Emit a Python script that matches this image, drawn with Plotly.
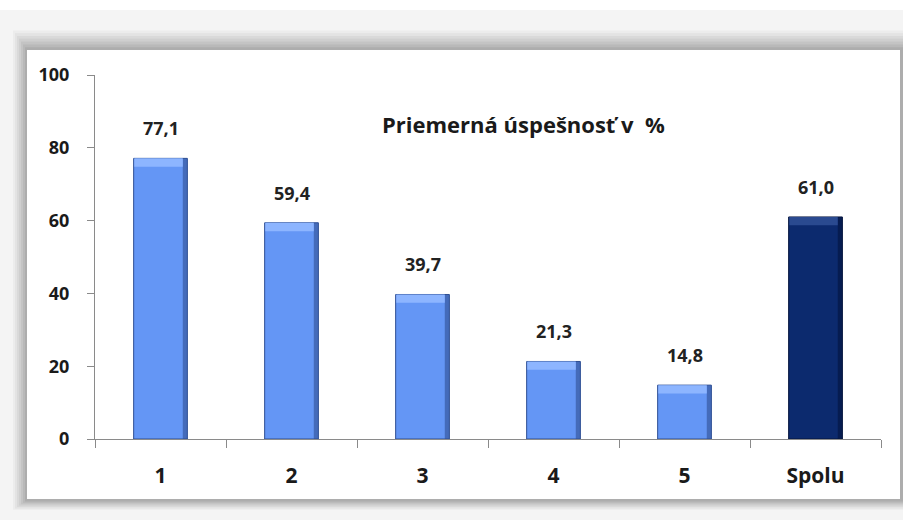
import plotly.graph_objects as go

categories = ["1", "2", "3", "4", "5", "Spolu"]
values = [77.1, 59.4, 39.7, 21.3, 14.8, 61.0]
bar_colors = ["#6496F5", "#6496F5", "#6496F5", "#6496F5", "#6496F5", "#0C2A6E"]
cap_colors = ["#8DB5FF", "#8DB5FF", "#8DB5FF", "#8DB5FF", "#8DB5FF", "#2A4A90"]
edge_colors = ["#2F4F93", "#2F4F93", "#2F4F93", "#2F4F93", "#2F4F93", "#04143D"]
y_ticks = [0, 20, 40, 60, 80, 100]
title_text = "Priemerná úspešnosť v  %"

W, H = 903, 520
L, R, T, B = 95, 22, 75, 81
PW, PH = W - L - R, H - T - B
FONT = "'Open Sans', Lato, Arial, sans-serif"


def px_x(p):
    return (p - L) / PW


def px_y(p):
    return (H - B - p) / PH


fig = go.Figure()

idx = list(range(len(categories)))
bw = 0.41
fig.add_trace(go.Bar(
    x=idx, y=values, width=bw, offset=-bw / 2,
    marker=dict(color=bar_colors, line=dict(color=edge_colors, width=1)),
    hovertext=categories, hoverinfo="text+y", showlegend=False,
))
# right-edge shading
fig.add_trace(go.Bar(
    x=idx, y=values, width=0.035, offset=bw / 2 - 0.035,
    marker=dict(color=edge_colors, opacity=0.6, line=dict(width=0)),
    hoverinfo="skip", showlegend=False,
))
# top bevel highlight
cap = 2.3
fig.add_trace(go.Bar(
    x=idx, y=[cap] * len(values), base=[v - cap for v in values],
    width=bw - 0.04, offset=-bw / 2 + 0.005,
    marker=dict(color=cap_colors, line=dict(width=0)),
    hoverinfo="skip", showlegend=False,
))

for i, v in zip(idx, values):
    fig.add_annotation(
        x=i, y=v, text=f"{v:.1f}".replace(".", ","), showarrow=False,
        yshift=30, font=dict(family=FONT, size=18, color="#222222", weight="bold"),
    )

fig.add_annotation(
    x=px_x(523), y=px_y(107), xref="paper", yref="paper", text=title_text,
    showarrow=False, font=dict(family=FONT, size=22, color="#1a1a1a", weight="bold"),
)

shapes = []
# outer light background
shapes.append(dict(type="rect", xref="paper", yref="paper", layer="below",
                   x0=px_x(0), x1=px_x(W), y0=px_y(H), y1=px_y(10),
                   fillcolor="#f4f4f4", line=dict(width=0)))
# shadow layers
for i, op in enumerate([0.05, 0.06, 0.07, 0.08, 0.09, 0.10, 0.12]):
    s = 14 - 2 * i
    shapes.append(dict(type="rect", xref="paper", yref="paper", layer="below",
                       x0=px_x(27 - s), x1=px_x(W + 5), y0=px_y(500 + s * 0.7),
                       y1=px_y(50 - s * 1.4),
                       fillcolor=f"rgba(90,90,90,{op})", line=dict(width=0)))
# white card
shapes.append(dict(type="rect", xref="paper", yref="paper", layer="below",
                   x0=px_x(27), x1=px_x(900), y0=px_y(499), y1=px_y(50),
                   fillcolor="#ffffff", line=dict(width=0)))

fig.update_layout(
    width=W, height=H, margin=dict(l=L, r=R, t=T, b=B, autoexpand=False),
    paper_bgcolor="#ffffff", plot_bgcolor="rgba(0,0,0,0)",
    barmode="overlay", shapes=shapes,
    font=dict(family=FONT),
)
fig.update_xaxes(
    range=[-0.5, len(categories) - 0.5], tickvals=idx, ticktext=categories,
    showline=True, linecolor="#8a8a8a", linewidth=1,
    ticks="", showgrid=False, ticklabelstandoff=18, automargin=False,
    tickfont=dict(family=FONT, size=21, color="#1a1a1a", weight="bold"),
    minor=dict(tickvals=[i - 0.5 for i in idx] + [len(categories) - 0.5],
               ticks="outside", ticklen=8, tickcolor="#8a8a8a", showgrid=False),
    zeroline=False,
)
fig.update_yaxes(
    range=[0, 100], tickvals=y_ticks, showline=True, linecolor="#8a8a8a",
    linewidth=1, ticks="outside", ticklen=7, tickcolor="#8a8a8a",
    showgrid=False, zeroline=False, ticklabelstandoff=14, automargin=False,
    tickfont=dict(family=FONT, size=18, color="#1a1a1a", weight="bold"),
)

fig.write_html("out.html", config={"displayModeBar": False},
               post_script="document.body.style.margin='0';")
